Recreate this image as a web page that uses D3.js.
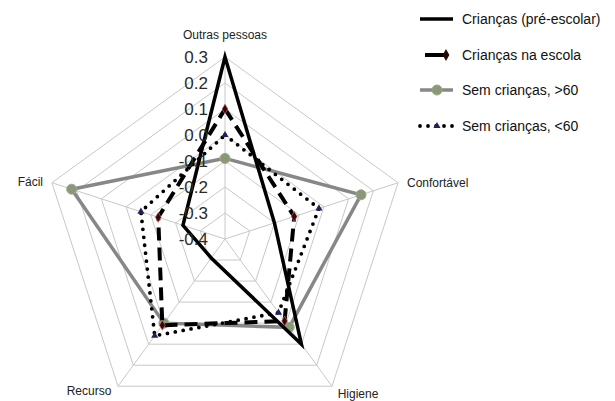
<!DOCTYPE html>
<html><head><meta charset="utf-8">
<script src="https://cdn.jsdelivr.net/npm/d3@7"></script>
<style>body{margin:0;background:#fff;} svg{display:block;font-family:"Liberation Sans",Arial,sans-serif;}</style>
</head><body><svg id="c" width="615" height="401"></svg>
<script>
const axes = ["Outras pessoas","Confortável","Higiene","Recurso","Fácil"];
const seriesNames = ["Crianças (pré-escolar)","Crianças na escola","Sem crianças, >60","Sem crianças, <60"];
const preEscolar = [0.30,-0.20,0.10,-0.31,-0.23];
const naEscola   = [0.10,-0.12,-0.01,0.01,-0.13];
const semMais60  = [-0.09,0.15,0.02,0.00,0.22];
const semMenos60 = [0.00,-0.02,-0.05,0.06,-0.06];
const ticks = [-0.4,-0.3,-0.2,-0.1,0.0,0.1,0.2,0.3];
const tickLabels = ["-0.4","-0.3","-0.2","-0.1","0.0","0.1","0.2","0.3"];

const svg = d3.select("#c");
const cx = 225, cy = 239, R = 182;
const r = d3.scaleLinear().domain([-0.4,0.3]).range([0,R]);
const ang = d3.scalePoint().domain(d3.range(axes.length+1)).range([0,2*Math.PI]);
const pt = (i,v) => [cx + r(v)*Math.sin(ang(i)), cy - r(v)*Math.cos(ang(i))];

const g = svg.append("g");
ticks.slice(1).forEach(t => {
  g.append("polygon").attr("points", axes.map((a,i)=>pt(i,t).join(",")).join(" "))
    .attr("fill","none").attr("stroke","#c8c8c8").attr("stroke-width",1);
});
axes.forEach((a,i)=>{
  const p = pt(i,0.3);
  g.append("line").attr("x1",cx).attr("y1",cy).attr("x2",p[0]).attr("y2",p[1])
    .attr("stroke","#c8c8c8").attr("stroke-width",1);
});

const labelPos = [
  {x:225,y:35,anchor:"middle"},
  {x:407,y:183,anchor:"start"},
  {x:358,y:394,anchor:"middle"},
  {x:89,y:391,anchor:"middle"},
  {x:43,y:182,anchor:"end"}
];
axes.forEach((a,i)=>{
  g.append("text").attr("x",labelPos[i].x).attr("y",labelPos[i].y)
    .attr("text-anchor",labelPos[i].anchor).attr("dominant-baseline","central")
    .attr("font-size",12).attr("fill","#222").text(a);
});

const line = d3.line().curve(d3.curveLinearClosed);
const styles = [
  {data:preEscolar, stroke:"#000", width:3.5, dash:null, cap:"butt", marker:null},
  {data:naEscola, stroke:"#000", width:4, dash:"13,7", cap:"butt", marker:"diamond"},
  {data:semMais60, stroke:"#878787", width:3.5, dash:null, cap:"butt", marker:"circle"},
  {data:semMenos60, stroke:"#000", width:3.8, dash:"0,8", cap:"round", marker:"triangle"}
];
function drawMarker(sel, type, x, y){
  if(type==="diamond"){
    sel.append("path").attr("d", d3.symbol(d3.symbolDiamond, 30)()).attr("transform",`translate(${x},${y})`)
      .attr("fill","#3a0505").attr("stroke","#d08080").attr("stroke-width",0.6);
  } else if(type==="circle"){
    sel.append("circle").attr("cx",x).attr("cy",y).attr("r",5).attr("fill","#8a9878").attr("stroke","#9aa88a");
  } else if(type==="triangle"){
    sel.append("path").attr("d", d3.symbol(d3.symbolTriangle, 22)()).attr("transform",`translate(${x},${y})`)
      .attr("fill","#22225a");
  }
}
[2,3,1,0].forEach(k=>{
  const s = styles[k];
  const pts = s.data.map((v,i)=>pt(i,v));
  g.append("path").attr("d", line(pts)).attr("fill","none").attr("stroke",s.stroke)
    .attr("stroke-width",s.width).attr("stroke-dasharray",s.dash).attr("stroke-linecap",s.cap)
    .attr("stroke-linejoin","miter");
  if(s.marker) pts.forEach(p=>drawMarker(g,s.marker,p[0],p[1]));
});

ticks.forEach((t,i)=>{
  g.append("text").attr("x",cx-17).attr("y",cy - r(t)).attr("text-anchor","end")
    .attr("dominant-baseline","central").attr("font-size",17).attr("fill","#2a2a2a").text(tickLabels[i]);
});

const legY = [19,55,90,126];
const lg = svg.append("g");
seriesNames.forEach((n,k)=>{
  const s = styles[k], y = legY[k];
  if(k===1){
    lg.append("line").attr("x1",425).attr("x2",445).attr("y1",y).attr("y2",y)
      .attr("stroke","#000").attr("stroke-width",4);
    lg.append("path").attr("d", d3.symbol(d3.symbolDiamond, 40)()).attr("transform",`translate(446,${y})`).attr("fill","#2a0505");
  } else {
    lg.append("line").attr("x1",420).attr("x2",453).attr("y1",y).attr("y2",y)
      .attr("stroke",s.stroke).attr("stroke-width",s.width).attr("stroke-dasharray",s.dash).attr("stroke-linecap",s.cap);
    if(s.marker) drawMarker(lg,s.marker,437,y);
  }
  lg.append("text").attr("x",462).attr("y",y).attr("dominant-baseline","central")
    .attr("font-size",14).attr("fill","#111").text(n);
});
</script></body></html>
